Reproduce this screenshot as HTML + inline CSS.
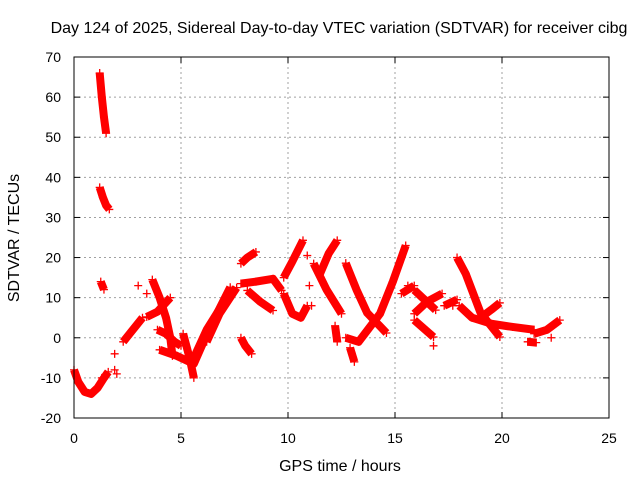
<!DOCTYPE html>
<html><head><meta charset="utf-8"><style>
body{margin:0;background:#fff;width:640px;height:480px;overflow:hidden}
svg{display:block;font-family:"Liberation Sans",sans-serif}
</style></head><body>
<svg id="chart" width="640" height="480" viewBox="0 0 640 480">
<text x="339" y="33" font-size="16" text-anchor="middle" fill="#000">Day 124 of 2025, Sidereal Day-to-day VTEC variation (SDTVAR) for receiver cibg</text>
<text transform="translate(19,238) rotate(-90)" font-size="16" text-anchor="middle" fill="#000">SDTVAR / TECUs</text>
<text x="340" y="471" font-size="16" text-anchor="middle" fill="#000">GPS time / hours</text>
<g id="grid"></g>
<g id="ticks"></g>
<g id="marks"></g>
<rect x="74" y="57" width="535" height="361" fill="none" stroke="#000" stroke-width="1"/>
</svg>
<script>
const xTicks=[0,5,10,15,20,25];
const yTicks=[-20,-10,0,10,20,30,40,50,60,70];
const tracks=[
[[0,-8],[0.2,-11],[0.5,-13.5],[0.8,-14],[1.1,-12.5],[1.4,-10],[1.6,-8.5]],
[[1.2,66],[1.3,60],[1.4,55],[1.5,51]],
[[1.2,37.5],[1.35,35],[1.5,33],[1.65,32]],
[[1.25,14],[1.4,12]],
[[2.3,-1],[2.6,1],[2.9,3],[3.2,5]],
[[3.66,14.5],[4.0,10],[4.3,5],[4.5,0],[4.6,-4.5]],
[[3.4,5.2],[3.9,6.5],[4.5,10]],
[[3.9,2],[4.3,1],[4.7,-1],[5.0,-2]],
[[4.0,-3],[4.8,-4.5],[5.6,-6.5],[6.3,2],[7.3,12.6]],
[[5.1,1],[5.4,-5],[5.6,-10]],
[[5.6,-5],[6.2,2],[6.9,8],[7.4,12]],
[[6.2,-1],[6.8,6],[7.6,12.5]],
[[7.8,18.5],[8.1,20],[8.5,21.4]],
[[7.8,0],[8.0,-2],[8.3,-4]],
[[7.8,13.5],[8.5,14],[9.3,14.7],[9.7,11.8]],
[[8.1,11.8],[8.7,9],[9.3,6.8]],
[[9.8,15],[10.2,19],[10.7,24.3]],
[[9.8,11],[10.2,6],[10.6,5],[10.9,8]],
[[11.5,16],[11.9,21],[12.3,24.3]],
[[11.2,18.5],[11.8,12],[12.5,6]],
[[12.7,18.6],[13.2,12],[13.7,6.2],[14.6,1.2]],
[[12.7,0],[13.3,-1],[14.3,6],[14.9,14],[15.5,23]],
[[12.2,3],[12.3,-1]],
[[12.9,-2.5],[13.1,-6]],
[[15.3,11],[15.9,13]],
[[15.9,11.9],[16.9,6.9]],
[[15.9,4.4],[16.8,0.2]],
[[15.9,6],[16.5,9],[17.2,11]],
[[17.3,8],[17.9,9.5]],
[[17.9,20],[18.3,16],[19.0,6.2],[19.9,0.2]],
[[18.0,8],[18.6,5],[19.5,3.5],[20.5,2.7],[21.5,2]],
[[19.0,5],[19.5,7],[19.9,8.7]],
[[21.5,1],[22.1,2],[22.7,4.4]],
[[21.2,-1],[21.6,-1.2]]
];
const extraPts=[[1.9,-4],[1.9,-8],[2.0,-9],[1.3,-10],[3.0,13],[3.4,11],[10.9,20.5],[11.0,13],[11.1,8],[16.8,-2],[15.6,13],[17.7,8],[22.3,0]];
const X=h=>74+h*21.4, Y=v=>418-(v+20)*4.011;
const ns="http://www.w3.org/2000/svg";
const grid=document.getElementById('grid'),ticks=document.getElementById('ticks'),marks=document.getElementById('marks');
function mk(tag,attrs,parent){const e=document.createElementNS(ns,tag);for(const k in attrs)e.setAttribute(k,attrs[k]);parent.appendChild(e);return e;}
xTicks.forEach(t=>{const x=X(t);
 if(t>0&&t<25){const g=mk('line',{x1:x,y1:57,x2:x,y2:418,stroke:'#a0a0a0','stroke-dasharray':'2,3'},grid);}
 mk('line',{x1:x,y1:418,x2:x,y2:412,stroke:'#000'},ticks);mk('line',{x1:x,y1:57,x2:x,y2:63,stroke:'#000'},ticks);
 const l=mk('text',{x:x,y:443,'font-size':14,'text-anchor':'middle'},ticks);l.textContent=t;
 
 });
yTicks.forEach(t=>{const y=Y(t);
 if(t>-20&&t<70){const g=mk('line',{x1:74,y1:y,x2:609,y2:y,stroke:'#a0a0a0','stroke-dasharray':'2,3'},grid);}
 mk('line',{x1:74,y1:y,x2:80,y2:y,stroke:'#000'},ticks);mk('line',{x1:609,y1:y,x2:603,y2:y,stroke:'#000'},ticks);
 const l=mk('text',{x:61,y:y+5,'font-size':14,'text-anchor':'end'},ticks);l.textContent=t;
 
 });
function plus(h,v){const x=X(h),y=Y(v);
 const p=mk('path',{d:`M${x-4},${y}h8M${x},${y-4}v8`,stroke:'#f00','stroke-width':1.3,fill:'none'},marks);
 
 }
tracks.forEach(tr=>{
 const pl=mk('polyline',{points:tr.map(p=>X(p[0])+','+Y(p[1])).join(' '),stroke:'#f00','stroke-width':8,fill:'none','stroke-linejoin':'round'},marks);
 
 
 tr.forEach(p=>plus(p[0],p[1]));});
extraPts.forEach(p=>plus(p[0],p[1]));
</script>
</body></html>
